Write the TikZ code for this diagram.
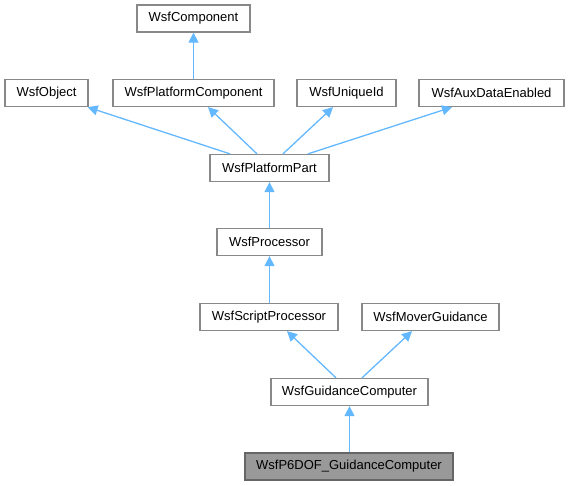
\documentclass[tikz,border=0pt]{standalone}
\usepackage{fontspec}
\setmainfont{Liberation Sans}
\usetikzlibrary{arrows.meta}
\definecolor{edgeblue}{HTML}{63B8FF}
\definecolor{boxline}{HTML}{888888}
\definecolor{curline}{HTML}{666666}
\definecolor{curfill}{HTML}{999999}
\tikzset{
  cls/.style={draw=boxline, line width=1.3pt, fill=white, minimum height=27pt, inner sep=0pt,
    font=\fontsize{13}{15}\selectfont, text=black},
  curcls/.style={cls, draw=curline, fill=curfill},
  inh/.style={draw=edgeblue, line width=1.3pt, -{Triangle[length=10pt, width=10pt]}}
}
\begin{document}
\begin{tikzpicture}[x=1pt, y=-1pt]
\useasboundingbox (0,0) rectangle (568,485);
\node[cls, minimum width=113pt] (comp) at (193.5,18.5) {WsfComponent};
\node[cls, minimum width=83pt] (obj) at (46.5,93) {WsfObject};
\node[cls, minimum width=161pt] (pcomp) at (193.5,93) {WsfPlatformComponent};
\node[cls, minimum width=99pt] (uid) at (346.5,93) {WsfUniqueId};
\node[cls, minimum width=145pt] (aux) at (491.5,93) {WsfAuxDataEnabled};
\node[cls, minimum width=119pt] (ppart) at (269.5,168) {WsfPlatformPart};
\node[cls, minimum width=105pt] (proc) at (269.5,242) {WsfProcessor};
\node[cls, minimum width=138pt] (sproc) at (269,317) {WsfScriptProcessor};
\node[cls, minimum width=137pt] (mover) at (430.5,317) {WsfMoverGuidance};
\node[cls, minimum width=157pt] (gc) at (349.5,392) {WsfGuidanceComputer};
\node[curcls, minimum width=208pt] (p6) at (349,466.5) {WsfP6DOF\_GuidanceComputer};

\draw[inh] (pcomp.north) -- (comp.south);
\draw[inh] ([xshift=-39.5pt]ppart.north) -- ([xshift=-1pt]obj.south east);
\draw[inh] ([xshift=-12.5pt]ppart.north) -- ([xshift=14.5pt]pcomp.south);
\draw[inh] ([xshift=13.5pt]ppart.north) -- ([xshift=-13.5pt]uid.south);
\draw[inh] ([xshift=38.5pt]ppart.north) -- ([xshift=-39.5pt]aux.south);
\draw[inh] (proc.north) -- (ppart.south);
\draw[inh] (sproc.north -| proc.south) -- (proc.south);
\draw[inh] ([xshift=-13.5pt]gc.north) -- ([xshift=18pt]sproc.south);
\draw[inh] ([xshift=12.5pt]gc.north) -- ([xshift=-18.5pt]mover.south);
\draw[inh] (p6.north -| gc.south) -- (gc.south);
\end{tikzpicture}
\end{document}
